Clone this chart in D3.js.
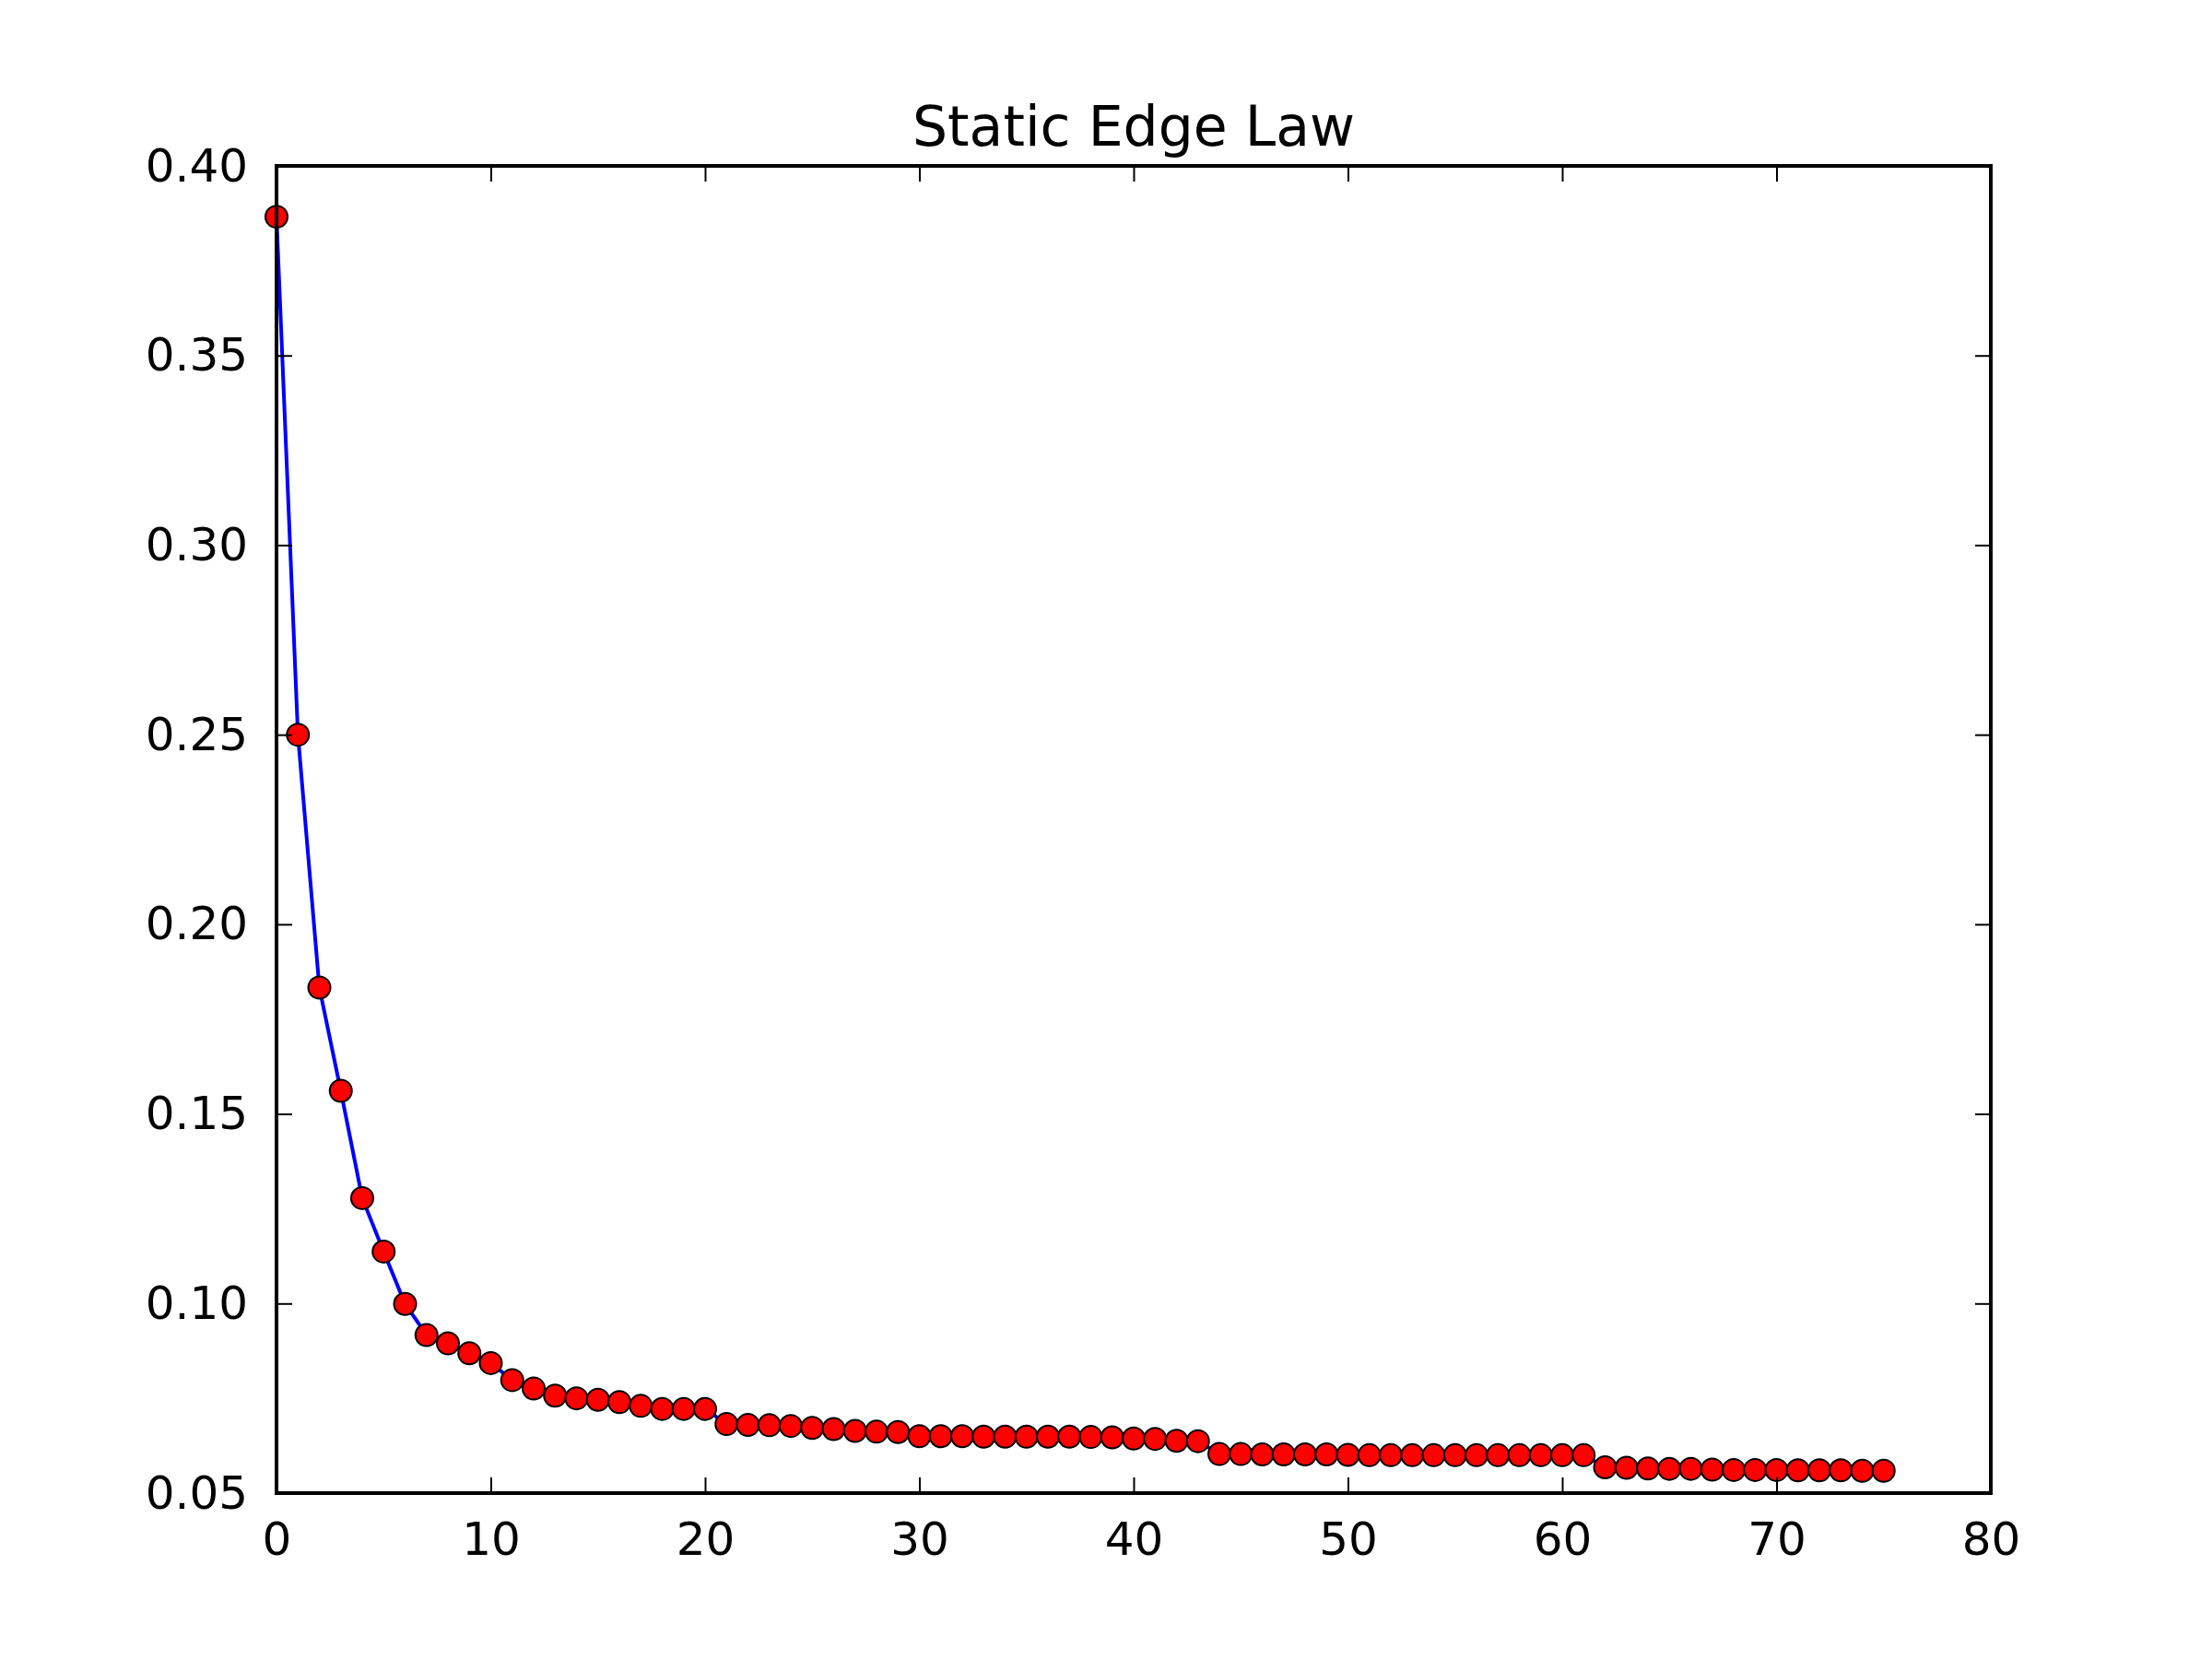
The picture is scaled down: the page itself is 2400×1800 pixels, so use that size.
<!DOCTYPE html>
<html><head><meta charset="utf-8">
<script src="https://cdn.jsdelivr.net/npm/d3@7"></script>
<style>body{margin:0;background:#fff}svg{display:block}text{font-family:"DejaVu Sans",sans-serif}</style>
</head><body><svg id="c" width="2400" height="1800"></svg>
<script>
const title = "Static Edge Law";
const yValues = [0.3866,0.2500,0.1833,0.1561,0.1278,0.1137,0.0999,0.0917,0.0895,0.0869,0.0843,
0.0798,0.0776,0.0757,0.0750,0.0746,0.0740,0.0730,0.0722,0.0722,0.0722,
0.0682,0.0680,0.0679,0.0677,0.0672,0.0669,0.0664,0.0662,0.0661,
0.0650,0.0650,0.0650,0.0649,0.0649,0.0649,0.0649,0.0649,0.0648,0.0647,0.0644,0.0643,0.0638,0.0637,
0.0603,0.0603,0.0602,0.0602,0.0602,0.0602,0.0601,0.0600,0.0600,0.0600,0.0600,0.0600,0.0600,0.0600,0.0600,0.0600,0.0600,0.0600,
0.0568,0.0567,0.0565,0.0564,0.0564,0.0562,0.0561,0.0561,0.0561,0.0560,0.0560,0.0560,0.0559,0.0559];
const xTicks = [0,10,20,30,40,50,60,70,80];
const yTicks = [0.05,0.10,0.15,0.20,0.25,0.30,0.35,0.40];

const L=300,R=2160,T=180,B=1620;
const svg=d3.select("#c");
const x=d3.scaleLinear().domain([0,80]).range([L,R]);
const y=d3.scaleLinear().domain([0.05,0.40]).range([B,T]);
const data=yValues.map((v,i)=>[i,v]);
svg.append("defs").append("clipPath").attr("id","cp").append("rect").attr("x",L).attr("y",T).attr("width",R-L).attr("height",B-T);
const g=svg.append("g").attr("clip-path","url(#cp)");
g.append("path").datum(data).attr("fill","none").attr("stroke","#0000ff").attr("stroke-width",4)
 .attr("d",d3.line().x(d=>x(d[0])).y(d=>y(d[1])));
svg.append("g").selectAll("circle").data(data).join("circle")
 .attr("cx",d=>x(d[0])).attr("cy",d=>y(d[1])).attr("r",12).attr("fill","#ff0000").attr("stroke","#000").attr("stroke-width",2);
const tl=17;
const ax=(gen,tr)=>svg.append("g").attr("transform",tr).call(gen).call(s=>{s.select(".domain").remove();s.selectAll("line").attr("stroke","#000").attr("stroke-width",2);s.selectAll("text").attr("font-size",50).attr("fill","#000").attr("font-family","DejaVu Sans");});
ax(d3.axisBottom(x).tickValues(xTicks).tickSize(-tl).tickPadding(tl+14).tickFormat(d3.format("d")),`translate(0,${B})`);
ax(d3.axisTop(x).tickValues(xTicks).tickSize(-tl).tickFormat(""),`translate(0,${T})`);
ax(d3.axisLeft(y).tickValues(yTicks).tickSize(-tl).tickPadding(tl+14).tickFormat(d3.format(".2f")),`translate(${L},0)`);
ax(d3.axisRight(y).tickValues(yTicks).tickSize(-tl).tickFormat(""),`translate(${R},0)`);
svg.append("rect").attr("x",L).attr("y",T).attr("width",R-L).attr("height",B-T).attr("fill","none").attr("stroke","#000").attr("stroke-width",4);
svg.append("text").attr("x",(L+R)/2).attr("y",T-22).attr("text-anchor","middle").attr("font-size",60).text(title);
</script></body></html>
